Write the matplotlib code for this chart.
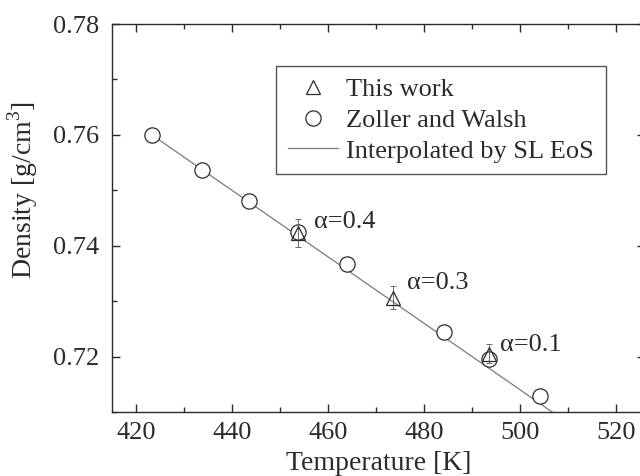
import matplotlib
matplotlib.use("Agg")
import matplotlib.pyplot as plt
from matplotlib.ticker import MultipleLocator

plt.rcParams["font.family"] = ["Liberation Serif", "DejaVu Serif"]
plt.rcParams["mathtext.fontset"] = "custom"
plt.rcParams["mathtext.rm"] = "Liberation Serif"

# Zoller and Walsh data
T_zw   = [423.3, 433.8, 443.5, 453.8, 463.9, 484.2, 493.6, 504.2]
rho_zw = [0.7600, 0.7537, 0.7481, 0.7425, 0.7367, 0.7244, 0.7195, 0.7128]

# This work
T_tw    = [453.8, 473.6, 493.5]
rho_tw  = [0.7423, 0.7306, 0.7205]
err_tw  = [0.0025, 0.0021, 0.0017]
alpha_labels = ["α=0.4", "α=0.3", "α=0.1"]

# SL EoS line
T_line   = [423.3, 510.0]
rho_line = [0.7600, 0.7080]

FS = 19
INK = "#2b2b2b"

fig = plt.figure(figsize=(6.4, 4.76), dpi=100)
ax = fig.add_axes([112 / 640, 1 - 412 / 476, 533 / 640, 388 / 476])

ax.plot(T_line, rho_line, color="#7a7a7a", lw=0.9, zorder=1,
        label="Interpolated by SL EoS")
ax.plot(T_zw, rho_zw, ls="none", marker="o", ms=11, mfc="white",
        mec=INK, mew=0.9, zorder=3, label="Zoller and Walsh")
ax.errorbar(T_tw, rho_tw, yerr=err_tw, fmt="none", ecolor="#555555",
            elinewidth=0.6, capsize=2, capthick=0.6, zorder=4)
ax.plot(T_tw, rho_tw, ls="none", marker="^", ms=10, mfc="none",
        mec=INK, mew=0.9, zorder=5, label="This work")

# label offsets in points
label_off = [(11, 8), (10, 11), (8, 6)]
for t, r, lab, off in zip(T_tw, rho_tw, alpha_labels, label_off):
    ax.annotate(lab, (t, r), xytext=off, textcoords="offset points",
                fontsize=FS, color=INK, va="center", ha="left")

ax.set_xlim(415, 526)
ax.set_ylim(0.71, 0.78)
ax.xaxis.set_major_locator(MultipleLocator(20))
ax.xaxis.set_minor_locator(MultipleLocator(10))
ax.yaxis.set_major_locator(MultipleLocator(0.02))
ax.yaxis.set_minor_locator(MultipleLocator(0.01))
ax.yaxis.set_major_formatter(plt.FuncFormatter(lambda v, p: f"{v:.2f}"))
ax.tick_params(which="both", direction="in", top=True, right=True,
               labelsize=FS, colors=INK, width=1.0)
ax.tick_params(which="major", length=6)
ax.tick_params(axis="y", which="major", pad=9)
ax.tick_params(axis="x", which="major", pad=7)
ax.tick_params(which="minor", length=3.5)
for s in ax.spines.values():
    s.set_color(INK)
    s.set_linewidth(1.0)

ax.set_xlabel("Temperature [K]", fontsize=20, color=INK)
ax.set_ylabel("Density [g/cm$^{3}$]", fontsize=20, color=INK)
ax.xaxis.set_label_coords(0.5, -(463 - 412) / 388)
ax.yaxis.set_label_coords(-(112 - 23) / 533, (412 - 190) / 388)
ax.xaxis.label.set_va("center")
ax.yaxis.label.set_va("center")

h, l = ax.get_legend_handles_labels()
order = [2, 1, 0]
leg = ax.legend([h[i] for i in order], [l[i] for i in order],
                loc="upper left", bbox_to_anchor=(164 / 533, 346 / 388),
                fontsize=FS, frameon=True, fancybox=False,
                edgecolor=INK, handlelength=1.9, handletextpad=0.3,
                labelspacing=0.27, borderpad=0.45, borderaxespad=0)
leg.get_frame().set_linewidth(1.0)
for t in leg.get_texts():
    t.set_color(INK)

fig.savefig("out.png", dpi=100)
